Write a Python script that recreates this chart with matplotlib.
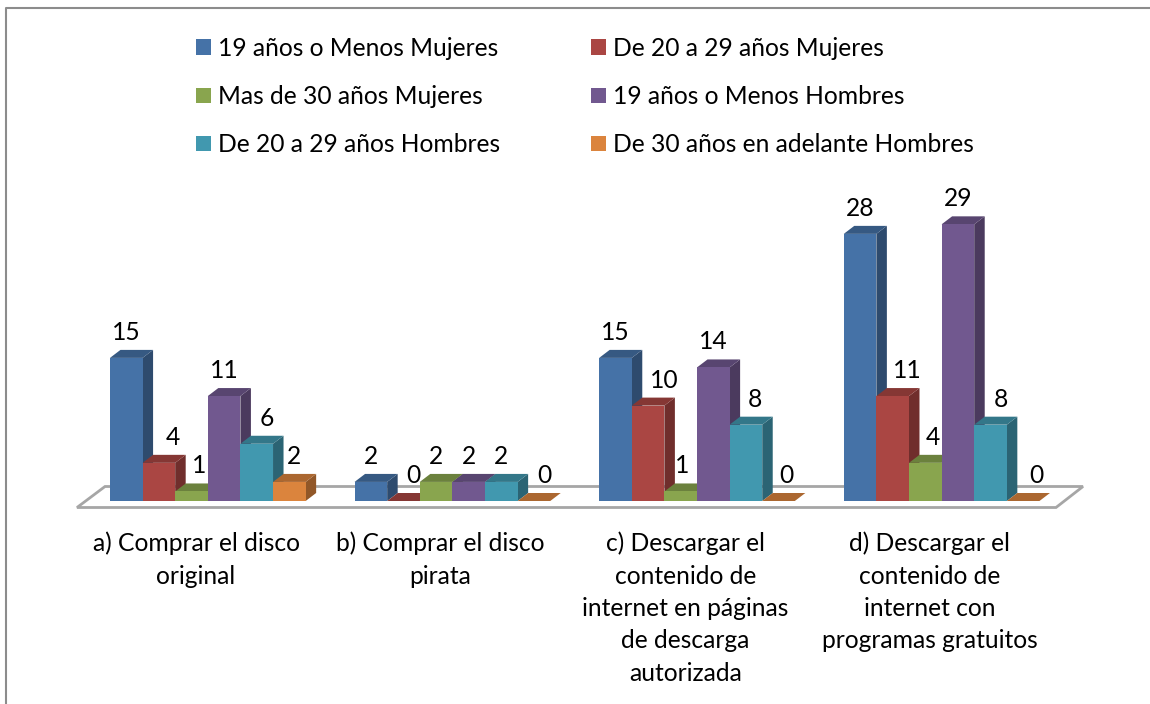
import matplotlib
matplotlib.use("Agg")
import matplotlib.pyplot as plt
from matplotlib.patches import Polygon, Patch
from matplotlib.lines import Line2D
from matplotlib.colors import to_rgb

plt.rcParams['font.family'] = ['Lato', 'DejaVu Sans']

categories = ["a) Comprar el disco\noriginal",
              "b) Comprar el disco\npirata",
              "c) Descargar el\ncontenido de\ninternet en páginas\nde descarga\nautorizada",
              "d) Descargar el\ncontenido de\ninternet con\nprogramas gratuitos"]
series_names = ["19 años o Menos Mujeres", "De 20 a 29 años Mujeres", "Mas de 30 años Mujeres",
                "19 años o Menos Hombres", "De 20 a 29 años Hombres", "De 30 años en adelante Hombres"]
v_m19 = [15, 2, 15, 28]
v_m20 = [4, 0, 10, 11]
v_m30 = [1, 2, 1, 4]
v_h19 = [11, 2, 14, 29]
v_h20 = [6, 2, 8, 8]
v_h30 = [2, 0, 0, 0]
series_values = [v_m19, v_m20, v_m30, v_h19, v_h20, v_h30]
colors = ["#4572A7", "#AA4643", "#89A54E", "#71588F", "#4198AF", "#DB843D"]

# label nudges in pixels (per series, per group)
label_dx = [[0, 0, 0, 0], [14, 10, 16, 15], [8, 0, 1, 8],
            [0, 0, 0, 0], [10, 0, 9, 10], [5, 10, 8, 13]]

W, H = 1150, 704
PX_GROUP, PX_VALUE = 244.6, 9.54
BAR = 0.8 / 6
BASE_PX, CENTER_PX = 501, 207.8
DX, DY = 10.5 / PX_GROUP, 8 / PX_VALUE
FS = 17.7

fig = plt.figure(figsize=(W / 100, H / 100), dpi=100, facecolor="white")
ax = fig.add_axes([0, 0, 1, 1])
ax.set_xlim(-CENTER_PX / PX_GROUP, (W - CENTER_PX) / PX_GROUP)
ax.set_ylim((BASE_PX - H) / PX_VALUE, BASE_PX / PX_VALUE)
ax.axis("off")

def dx(px): return (px - CENTER_PX) / PX_GROUP
def dy(py): return (BASE_PX - py) / PX_VALUE
def shade(c, k): return tuple(x * k for x in to_rgb(c))

# chart frame
fig.add_artist(Line2D([5.5 / W, 5.5 / W, 1], [0, 1 - 7.5 / H, 1 - 7.5 / H], color="#8c8c8c", lw=1.5))

# floor
floor = [(77, 507.5), (105, 486.5), (1083, 486.5), (1056, 507.5)]
ax.add_patch(Polygon([(dx(x), dy(y)) for x, y in floor], closed=True, fc="white", ec="#a6a6a6", lw=2, zorder=1))

z = 2
for g in range(len(categories)):
    for s, vals in enumerate(series_values):
        v = vals[g]
        x0 = g + (s - 3) * BAR
        x1 = x0 + BAR
        c = colors[s]
        ax.add_patch(Polygon([(x1, 0), (x1 + DX, DY), (x1 + DX, v + DY), (x1, v)], closed=True,
                             fc=shade(c, .66), ec="none", zorder=z))
        ax.add_patch(Polygon([(x0, v), (x1, v), (x1 + DX, v + DY), (x0 + DX, v + DY)], closed=True,
                             fc=shade(c, .78), ec="none", zorder=z))
        ax.bar(x0, v, BAR, align="edge", color=c, edgecolor="none", zorder=z)
        ax.annotate(str(v), xy=(x0 + BAR / 2, v), xytext=(label_dx[s][g], 25.5), textcoords="offset pixels",
                    ha="center", va="center", fontsize=FS, color="black", zorder=50)
        z += 1

# category labels
for g, lab in enumerate(categories):
    x = g - 0.048
    for i, line in enumerate(lab.split("\n")):
        ax.text(x, dy(543.5 + i * 32.5), line, ha="center", va="center", fontsize=FS, color="black")

# legend: filled column-wise, reads row-wise
order = [0, 2, 4, 1, 3, 5]
handles = [Patch(fc=colors[i], ec="none", label=series_names[i]) for i in order]
leg = ax.legend(handles=handles, ncols=2, frameon=False, fontsize=FS,
                loc="upper left", bbox_to_anchor=(196 / W, 1 - 37 / H), bbox_transform=fig.transFigure,
                borderaxespad=0, borderpad=0, handlelength=0.61, handleheight=0.61,
                handletextpad=0.29, labelspacing=1.02, columnspacing=3.68)

fig.savefig("out.png", dpi=100)
